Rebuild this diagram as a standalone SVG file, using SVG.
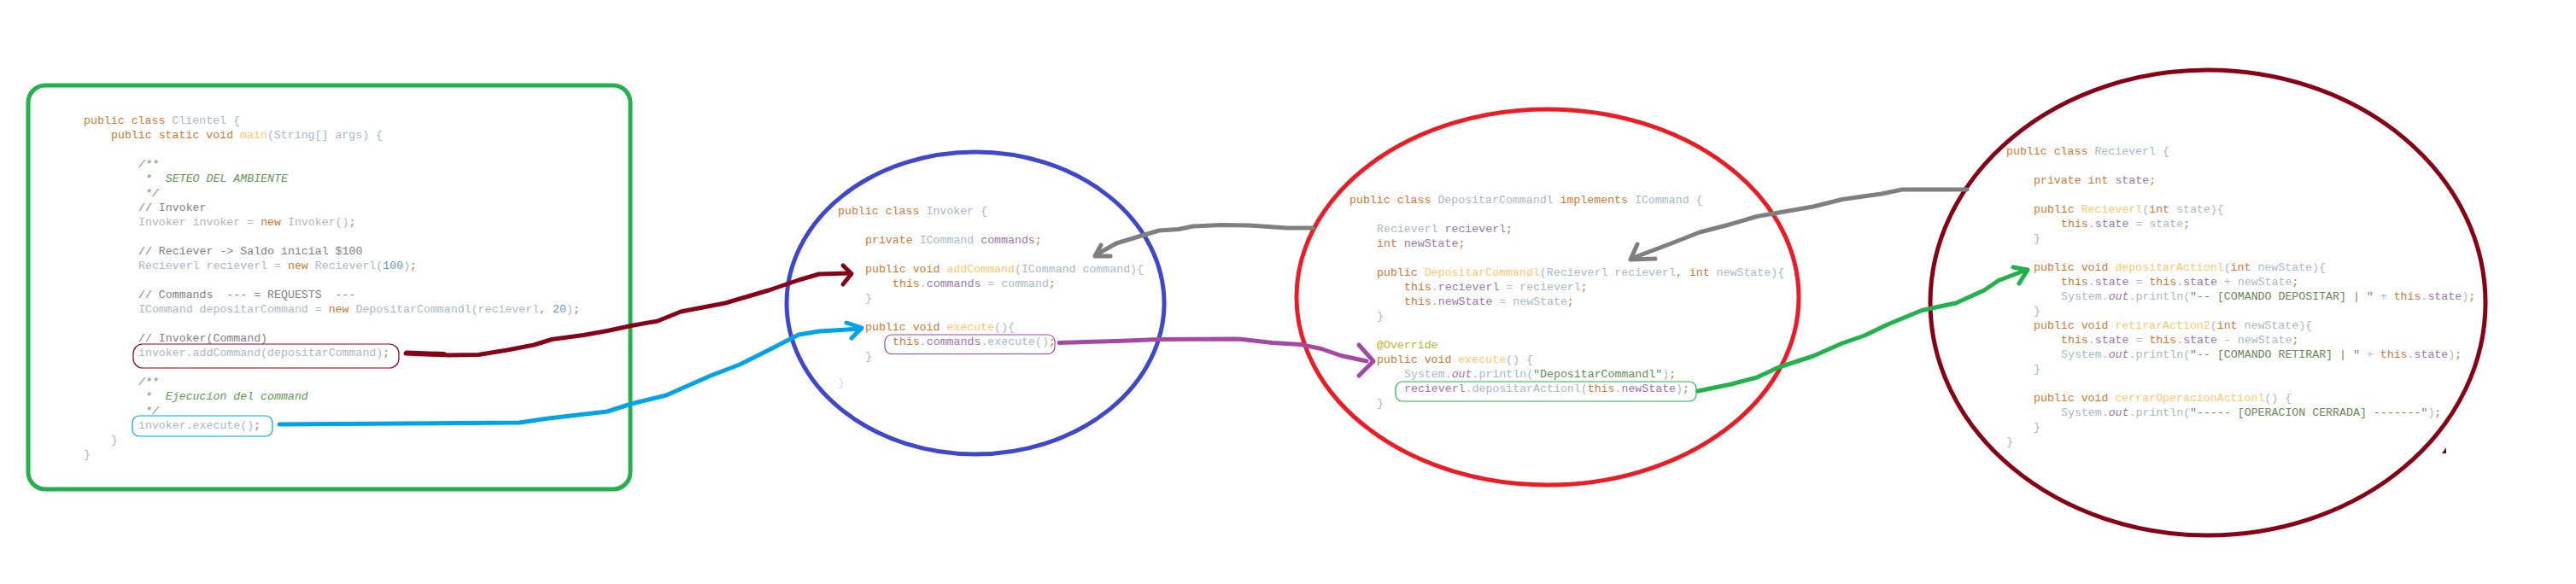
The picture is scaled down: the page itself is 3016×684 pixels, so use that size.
<svg xmlns="http://www.w3.org/2000/svg" width="3016" height="684" viewBox="0 0 3016 684" xml:space="preserve">
<style>
.t{font-family:"Liberation Mono","Courier New",monospace;font-size:13.25px;fill:#a9b7c6;white-space:pre}
.k{fill:#cc7832}.m{fill:#ffc66d}.c{fill:#808080}.d{fill:#629755;font-style:italic}.n{fill:#6897bb}.f{fill:#9876aa}.s{fill:#6a8759}.a{fill:#bbb529}.i{font-style:italic}
.box{fill:none;stroke-width:5}
.hl{fill:none;stroke-width:1.2}
.ln{fill:none;stroke-width:5;stroke-linejoin:round;stroke-linecap:round}
</style>
<rect width="3016" height="684" fill="#ffffff"/>
<g id="cliente1">
<rect class="box" x="33" y="100" width="705" height="473" rx="20" stroke="#22b14c"/>
<text class="t" xml:space="preserve" x="98" y="145"><tspan class="k">public class </tspan>Clientel {</text>
<text class="t" xml:space="preserve" x="130" y="162"><tspan class="k">public static void </tspan><tspan class="m">main</tspan>(String[] args) {</text>
<text class="t d" xml:space="preserve" x="162" y="196">/**</text>
<text class="t d" xml:space="preserve" x="162" y="213"> *  SETEO DEL AMBIENTE</text>
<text class="t d" xml:space="preserve" x="162" y="230"> */</text>
<text class="t c" xml:space="preserve" x="162" y="247">// Invoker</text>
<text class="t" xml:space="preserve" x="162" y="264">Invoker invoker = <tspan class="k">new </tspan>Invoker()<tspan class="k">;</tspan></text>
<text class="t c" xml:space="preserve" x="162" y="298">// Reciever -&gt; Saldo inicial $100</text>
<text class="t" xml:space="preserve" x="162" y="315">Recieverl recieverl = <tspan class="k">new </tspan>Recieverl(<tspan class="n">100</tspan>)<tspan class="k">;</tspan></text>
<text class="t c" xml:space="preserve" x="162" y="349">// Commands  --- = REQUESTS  ---</text>
<text class="t" xml:space="preserve" x="162" y="366">ICommand depositarCommand = <tspan class="k">new </tspan>DepositarCommandl(recieverl<tspan class="k">, </tspan><tspan class="n">20</tspan>)<tspan class="k">;</tspan></text>
<text class="t c" xml:space="preserve" x="162" y="400">// Invoker(Command)</text>
<text class="t" xml:space="preserve" x="162" y="417">invoker.addCommand(depositarCommand)<tspan class="k">;</tspan></text>
<rect class="hl" x="156" y="403" width="311" height="28" rx="11" stroke="#880015"/>
<text class="t d" xml:space="preserve" x="162" y="451">/**</text>
<text class="t d" xml:space="preserve" x="162" y="468"> *  Ejecucion del command</text>
<text class="t d" xml:space="preserve" x="162" y="485"> */</text>
<text class="t" xml:space="preserve" x="162" y="502">invoker.execute()<tspan class="k">;</tspan></text>
<rect class="hl" x="155" y="487" width="164" height="24" rx="8" stroke="#00a2e8"/>
<text class="t" x="130" y="519">}</text>
<text class="t" x="98" y="536">}</text>
</g>
<g id="invoker">
<ellipse class="box" cx="1142" cy="355" rx="221" ry="177" stroke="#3f48cc"/>
<text class="t" xml:space="preserve" x="981" y="251"><tspan class="k">public class </tspan>Invoker {</text>
<text class="t" xml:space="preserve" x="1013" y="285"><tspan class="k">private </tspan>ICommand <tspan class="f">commands</tspan><tspan class="k">;</tspan></text>
<text class="t" xml:space="preserve" x="1013" y="319"><tspan class="k">public void </tspan><tspan class="m">addCommand</tspan>(ICommand command){</text>
<text class="t" xml:space="preserve" x="1045" y="336"><tspan class="k">this</tspan>.<tspan class="f">commands</tspan> = command<tspan class="k">;</tspan></text>
<text class="t" x="1013" y="353">}</text>
<text class="t" xml:space="preserve" x="1013" y="387"><tspan class="k">public void </tspan><tspan class="m">execute</tspan>(){</text>
<text class="t" xml:space="preserve" x="1045" y="404"><tspan class="k">this</tspan>.<tspan class="f">commands</tspan>.execute()<tspan class="k">;</tspan></text>
<rect class="hl" x="1036" y="392" width="199" height="22.5" rx="8" stroke="#a349a4"/>
<text class="t" x="1013" y="421">}</text>
<text class="t" x="981" y="452" opacity="0.5">}</text>
</g>
<g id="depositarCommand1">
<ellipse class="box" cx="1812" cy="348" rx="294" ry="220" stroke="#ed1c24"/>
<text class="t" xml:space="preserve" x="1580" y="238"><tspan class="k">public class </tspan>DepositarCommandl <tspan class="k">implements </tspan>ICommand {</text>
<text class="t" xml:space="preserve" x="1612" y="272">Recieverl <tspan class="f">recieverl</tspan><tspan class="k">;</tspan></text>
<text class="t" xml:space="preserve" x="1612" y="289"><tspan class="k">int </tspan><tspan class="f">newState</tspan><tspan class="k">;</tspan></text>
<text class="t" xml:space="preserve" x="1612" y="323"><tspan class="k">public </tspan><tspan class="m">DepositarCommandl</tspan>(Recieverl recieverl<tspan class="k">, int </tspan>newState){</text>
<text class="t" xml:space="preserve" x="1644" y="340"><tspan class="k">this</tspan>.<tspan class="f">recieverl</tspan> = recieverl<tspan class="k">;</tspan></text>
<text class="t" xml:space="preserve" x="1644" y="357"><tspan class="k">this</tspan>.<tspan class="f">newState</tspan> = newState<tspan class="k">;</tspan></text>
<text class="t" x="1612" y="374">}</text>
<text class="t a" x="1612" y="408">@Override</text>
<text class="t" xml:space="preserve" x="1612" y="425"><tspan class="k">public void </tspan><tspan class="m">execute</tspan>() {</text>
<text class="t" xml:space="preserve" x="1644" y="442">System.<tspan class="f i">out</tspan>.println(<tspan class="s">"DepositarCommandl"</tspan>)<tspan class="k">;</tspan></text>
<text class="t" xml:space="preserve" x="1644" y="459"><tspan class="f">recieverl</tspan>.depositarActionl(<tspan class="k">this</tspan>.<tspan class="f">newState</tspan>)<tspan class="k">;</tspan></text>
<rect class="hl" x="1634" y="447" width="352" height="23" rx="8" stroke="#22b14c"/>
<text class="t" x="1612" y="476">}</text>
</g>
<g id="reciever1">
<ellipse class="box" cx="2585" cy="354.5" rx="325" ry="272.5" stroke="#880015"/>
<polygon points="2859,531 2864,524 2864,531" fill="#880015"/>
<text class="t" xml:space="preserve" x="2349" y="181"><tspan class="k">public class </tspan>Recieverl {</text>
<text class="t" xml:space="preserve" x="2381" y="215"><tspan class="k">private int </tspan><tspan class="f">state</tspan><tspan class="k">;</tspan></text>
<text class="t" xml:space="preserve" x="2381" y="249"><tspan class="k">public </tspan><tspan class="m">Recieverl</tspan>(<tspan class="k">int </tspan>state){</text>
<text class="t" xml:space="preserve" x="2413" y="266"><tspan class="k">this</tspan>.<tspan class="f">state</tspan> = state<tspan class="k">;</tspan></text>
<text class="t" x="2381" y="283">}</text>
<text class="t" xml:space="preserve" x="2381" y="317"><tspan class="k">public void </tspan><tspan class="m">depositarActionl</tspan>(<tspan class="k">int </tspan>newState){</text>
<text class="t" xml:space="preserve" x="2413" y="334"><tspan class="k">this</tspan>.<tspan class="f">state</tspan> = <tspan class="k">this</tspan>.<tspan class="f">state</tspan> + newState<tspan class="k">;</tspan></text>
<text class="t" xml:space="preserve" x="2413" y="351">System.<tspan class="f i">out</tspan>.println(<tspan class="s">"-- [COMANDO DEPOSITAR] | "</tspan> + <tspan class="k">this</tspan>.<tspan class="f">state</tspan>)<tspan class="k">;</tspan></text>
<text class="t" x="2381" y="368">}</text>
<text class="t" xml:space="preserve" x="2381" y="385"><tspan class="k">public void </tspan><tspan class="m">retirarAction2</tspan>(<tspan class="k">int </tspan>newState){</text>
<text class="t" xml:space="preserve" x="2413" y="402"><tspan class="k">this</tspan>.<tspan class="f">state</tspan> = <tspan class="k">this</tspan>.<tspan class="f">state</tspan> - newState<tspan class="k">;</tspan></text>
<text class="t" xml:space="preserve" x="2413" y="419">System.<tspan class="f i">out</tspan>.println(<tspan class="s">"-- [COMANDO RETIRAR] | "</tspan> + <tspan class="k">this</tspan>.<tspan class="f">state</tspan>)<tspan class="k">;</tspan></text>
<text class="t" x="2381" y="436">}</text>
<text class="t" xml:space="preserve" x="2381" y="470"><tspan class="k">public void </tspan><tspan class="m">cerrarOperacionActionl</tspan>() {</text>
<text class="t" xml:space="preserve" x="2413" y="487">System.<tspan class="f i">out</tspan>.println(<tspan class="s">"----- [OPERACION CERRADA] -------"</tspan>)<tspan class="k">;</tspan></text>
<text class="t" x="2381" y="504">}</text>
<text class="t" x="2349" y="521">}</text>
</g>
<g id="connectors">
<g stroke="#880015">
<polyline class="ln" points="475,414 525,416 560,415.5 594,410 625,404 646,397.5 683,392.5 711,387.5 739,381.5 770,376 797,365 849,355 900,340 935,328 959,321 994,320"/>
<polyline class="ln" stroke-width="7" points="476,413 520,414.5"/>
<polyline class="ln" points="987,311 997,320.5 987,333"/>
</g>
<g stroke="#00a2e8">
<polyline class="ln" points="327,497 608,495 642,490 711,482 739,473 780,463 832,440 866,427 900,410 935,392 959,388 1008,385"/>
<polyline class="ln" points="991,378 1009,384 997,396"/>
</g>
<g stroke="#a349a4">
<polyline class="ln" stroke-width="6" points="1240,401.5 1307,399.5 1357,397.5 1450,397 1490,401.5 1523,403.5 1547,408.5 1570,416.5 1600,423"/>
<polyline class="ln" stroke-width="6" points="1591,404 1608,423 1591,440"/>
</g>
<g stroke="#7f7f7f">
<polyline class="ln" points="1537,267 1507,267 1463,264 1430,263.5 1397,265 1380,268.5 1357,270 1330,278 1307,285 1284,298"/>
<polyline class="ln" points="1289,287 1282,300 1300,300"/>
<polyline class="ln" points="2303,222 2227,222 2203,227 2157,233.5 2123,242 2077,250 2057,253.5 2023,263.5 1990,272 1957,285 1912,302"/>
<polyline class="ln" points="1917,286 1909,304 1938,303"/>
</g>
<g stroke="#22b14c">
<polyline class="ln" points="1988,458 2027,450 2057,442 2083,430 2123,417 2157,402 2183,393 2210,380 2250,363.5 2290,355 2323,340 2340,328.5 2370,317"/>
<polyline class="ln" points="2357,313 2374,316 2364,332"/>
</g>
</g>
</svg>
